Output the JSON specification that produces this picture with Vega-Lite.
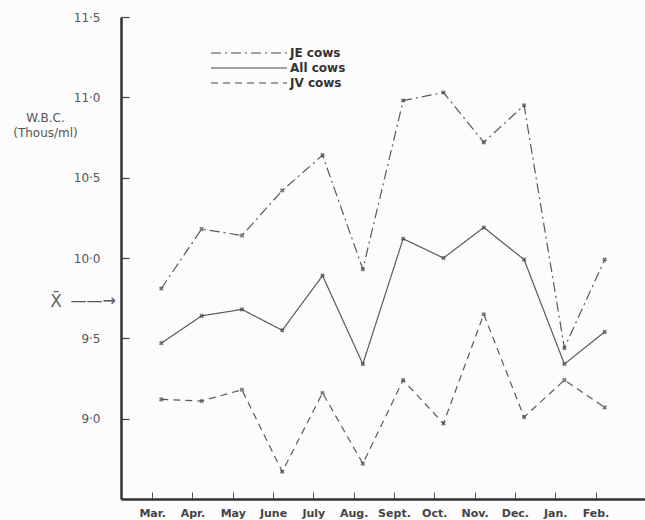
{
  "$schema": "https://vega.github.io/schema/vega-lite/v6.json",
  "width": 524,
  "height": 482,
  "autosize": {"type": "none"},
  "padding": {"left": 121, "top": 17, "right": 0, "bottom": 21},
  "background": "#fcfcfc",
  "config": {"view": {"stroke": null}, "font": "DejaVu Sans"},
  "datasets": {
    "wbc": [
      {"month": "Mar.", "group": "JE cows", "wbc": 9.81},
      {"month": "Apr.", "group": "JE cows", "wbc": 10.18},
      {"month": "May", "group": "JE cows", "wbc": 10.14},
      {"month": "June", "group": "JE cows", "wbc": 10.42},
      {"month": "July", "group": "JE cows", "wbc": 10.64},
      {"month": "Aug.", "group": "JE cows", "wbc": 9.93},
      {"month": "Sept.", "group": "JE cows", "wbc": 10.98},
      {"month": "Oct.", "group": "JE cows", "wbc": 11.03},
      {"month": "Nov.", "group": "JE cows", "wbc": 10.72},
      {"month": "Dec.", "group": "JE cows", "wbc": 10.95},
      {"month": "Jan.", "group": "JE cows", "wbc": 9.44},
      {"month": "Feb.", "group": "JE cows", "wbc": 9.99},
      {"month": "Mar.", "group": "All cows", "wbc": 9.47},
      {"month": "Apr.", "group": "All cows", "wbc": 9.64},
      {"month": "May", "group": "All cows", "wbc": 9.68},
      {"month": "June", "group": "All cows", "wbc": 9.55},
      {"month": "July", "group": "All cows", "wbc": 9.89},
      {"month": "Aug.", "group": "All cows", "wbc": 9.34},
      {"month": "Sept.", "group": "All cows", "wbc": 10.12},
      {"month": "Oct.", "group": "All cows", "wbc": 10.0},
      {"month": "Nov.", "group": "All cows", "wbc": 10.19},
      {"month": "Dec.", "group": "All cows", "wbc": 9.99},
      {"month": "Jan.", "group": "All cows", "wbc": 9.34},
      {"month": "Feb.", "group": "All cows", "wbc": 9.54},
      {"month": "Mar.", "group": "JV cows", "wbc": 9.12},
      {"month": "Apr.", "group": "JV cows", "wbc": 9.11},
      {"month": "May", "group": "JV cows", "wbc": 9.18},
      {"month": "June", "group": "JV cows", "wbc": 8.67},
      {"month": "July", "group": "JV cows", "wbc": 9.16},
      {"month": "Aug.", "group": "JV cows", "wbc": 8.72},
      {"month": "Sept.", "group": "JV cows", "wbc": 9.24},
      {"month": "Oct.", "group": "JV cows", "wbc": 8.97},
      {"month": "Nov.", "group": "JV cows", "wbc": 9.65},
      {"month": "Dec.", "group": "JV cows", "wbc": 9.01},
      {"month": "Jan.", "group": "JV cows", "wbc": 9.24},
      {"month": "Feb.", "group": "JV cows", "wbc": 9.07}
    ],
    "months": [
      {"month": "Mar."}, {"month": "Apr."}, {"month": "May"}, {"month": "June"},
      {"month": "July"}, {"month": "Aug."}, {"month": "Sept."}, {"month": "Oct."},
      {"month": "Nov."}, {"month": "Dec."}, {"month": "Jan."}, {"month": "Feb."}
    ],
    "mean": [{"label": "X̄", "arrow": "——→", "wbc": 9.725}]
  },
  "layer": [
    {
      "data": {"name": "wbc"},
      "mark": {"type": "line", "color": "#5a5a5a", "strokeWidth": 1.2},
      "encoding": {
        "x": {
          "field": "month", "type": "ordinal",
          "scale": {"type": "point", "padding": 1, "domain": ["Mar.", "Apr.", "May", "June", "July", "Aug.", "Sept.", "Oct.", "Nov.", "Dec.", "Jan.", "Feb."]},
          "axis": null
        },
        "y": {
          "field": "wbc", "type": "quantitative",
          "scale": {"domain": [8.5, 11.5], "nice": false, "zero": false},
          "axis": {
            "values": [9, 9.5, 10, 10.5, 11, 11.5],
            "labelExpr": "replace(format(datum.value, '.1f'), '.', '·')",
            "grid": false,
            "domainColor": "#333", "domainWidth": 2.5,
            "tickColor": "#444", "tickSize": -8, "tickWidth": 1.2,
            "labelPadding": 29, "labelFontSize": 12, "labelColor": "#555",
            "title": ["W.B.C.", "(Thous/ml)"],
            "titleAngle": 0, "titleAlign": "center", "titleBaseline": "alphabetic",
            "titleX": -76, "titleY": 104, "titleFontSize": 12, "titleFontWeight": "normal",
            "titleColor": "#555", "titleLineHeight": 15
          }
        },
        "strokeDash": {
          "field": "group", "type": "nominal",
          "scale": {"domain": ["JE cows", "All cows", "JV cows"], "range": [[10, 4, 2, 4], [1, 0], [7, 5]]},
          "legend": {
            "title": null, "orient": "none", "legendX": 89, "legendY": 29,
            "symbolType": "stroke", "symbolSize": 5776, "symbolStrokeWidth": 1.2,
            "symbolStrokeColor": "#444", "clipHeight": 14, "rowPadding": 1,
            "labelFontSize": 12, "labelColor": "#333", "labelFontWeight": "bold", "labelOffset": 2
          }
        },
        "detail": {"field": "group"}
      }
    },
    {
      "data": {"name": "wbc"},
      "mark": {"type": "point", "shape": "cross", "angle": 45, "size": 22, "filled": true, "color": "#444"},
      "encoding": {
        "x": {
          "field": "month", "type": "ordinal",
          "scale": {"type": "point", "padding": 1, "domain": ["Mar.", "Apr.", "May", "June", "July", "Aug.", "Sept.", "Oct.", "Nov.", "Dec.", "Jan.", "Feb."]},
          "axis": null
        },
        "y": {"field": "wbc", "type": "quantitative"}
      }
    },
    {
      "data": {"name": "months"},
      "mark": {"type": "point", "opacity": 0},
      "encoding": {
        "x": {
          "field": "month", "type": "ordinal",
          "scale": {"type": "point", "padding": 1.286, "align": 0.386, "domain": ["Mar.", "Apr.", "May", "June", "July", "Aug.", "Sept.", "Oct.", "Nov.", "Dec.", "Jan.", "Feb."]},
          "axis": {
            "orient": "bottom", "title": null, "labelAngle": 0,
            "domainColor": "#333", "domainWidth": 2.5,
            "tickColor": "#555", "tickSize": -7, "tickWidth": 1,
            "labelPadding": 15, "labelFontSize": 11, "labelColor": "#444", "labelFontWeight": "bold"
          }
        }
      }
    },
    {
      "data": {"name": "mean"},
      "mark": {"type": "text", "align": "center", "baseline": "middle", "fontSize": 17, "color": "#666", "dx": -65},
      "encoding": {
        "x": {"value": 0},
        "y": {"field": "wbc", "type": "quantitative"},
        "text": {"field": "label"}
      }
    },
    {
      "data": {"name": "mean"},
      "mark": {"type": "text", "align": "right", "baseline": "middle", "fontSize": 16, "color": "#555", "dx": -5, "dy": -1},
      "encoding": {
        "x": {"value": 0},
        "y": {"field": "wbc", "type": "quantitative"},
        "text": {"field": "arrow"}
      }
    }
  ],
  "resolve": {"scale": {"x": "independent"}, "axis": {"x": "independent"}}
}
